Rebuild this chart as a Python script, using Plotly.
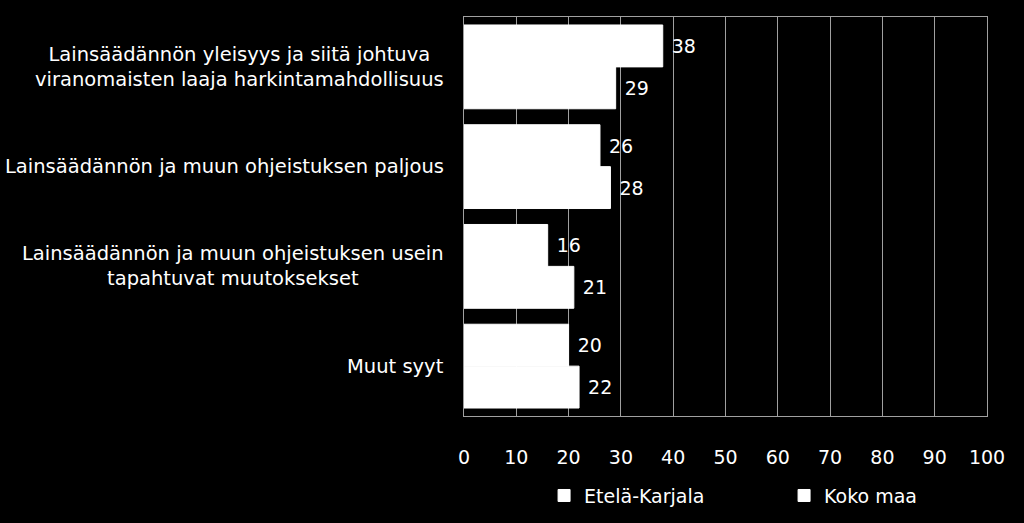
import plotly.graph_objects as go

categories = [
    "Lainsäädännön yleisyys ja siitä johtuva<br>viranomaisten laaja harkintamahdollisuus",
    "Lainsäädännön ja muun ohjeistuksen paljous",
    "Lainsäädännön ja muun ohjeistuksen usein<br>tapahtuvat muutoksekset",
    "Muut syyt",
]
series_names = ["Etelä-Karjala", "Koko maa"]
etela_karjala = [38, 26, 16, 20]
koko_maa = [29, 28, 21, 22]
x_ticks = [0, 10, 20, 30, 40, 50, 60, 70, 80, 90, 100]

FONT = "DejaVu Sans"
fig = go.Figure()
for name, vals in zip(series_names, [etela_karjala, koko_maa]):
    fig.add_trace(go.Bar(
        y=categories, x=vals, name=name, orientation="h",
        marker=dict(color="white", line=dict(width=1, color="white")),
        text=["\u00a0" + str(v) for v in vals], textposition="outside",
        textfont=dict(color="white", size=19, family=FONT),
        cliponaxis=False,
    ))

for c in categories:
    fig.add_annotation(
        x=0, xref="paper", y=c, yref="y", text=c, showarrow=False,
        xanchor="right", xshift=-18, align="center",
        font=dict(color="white", size=19.5, family=FONT),
    )

fig.update_layout(
    width=1024, height=523,
    paper_bgcolor="black", plot_bgcolor="black",
    margin=dict(l=464, r=37, t=17, b=107, autoexpand=False),
    barmode="group", bargap=0.16, bargroupgap=0,
    font=dict(family=FONT, color="white"),
    legend=dict(orientation="h", x=0.612, xanchor="center", y=-0.152, yanchor="top",
                font=dict(size=19, color="white", family=FONT),
                itemwidth=30, traceorder="normal",
                entrywidth=195, entrywidthmode="pixels"),
    showlegend=True,
)
fig.update_xaxes(
    range=[0, 100], tickvals=x_ticks, ticktext=[str(t) for t in x_ticks],
    showgrid=True, gridcolor="#a0a0a0", gridwidth=1,
    showline=True, linecolor="#a0a0a0", mirror=True, zeroline=False,
    tickfont=dict(size=19, color="white", family=FONT), ticks="", ticklabelstandoff=24,
)
fig.update_yaxes(
    autorange="reversed", showticklabels=False, showgrid=False,
    showline=True, linecolor="#a0a0a0", mirror=True, ticks="",
)
fig.write_html(
    "out.html",
    config={"displayModeBar": False},
    post_script="document.body.style.margin='0';document.body.style.background='black';",
)
